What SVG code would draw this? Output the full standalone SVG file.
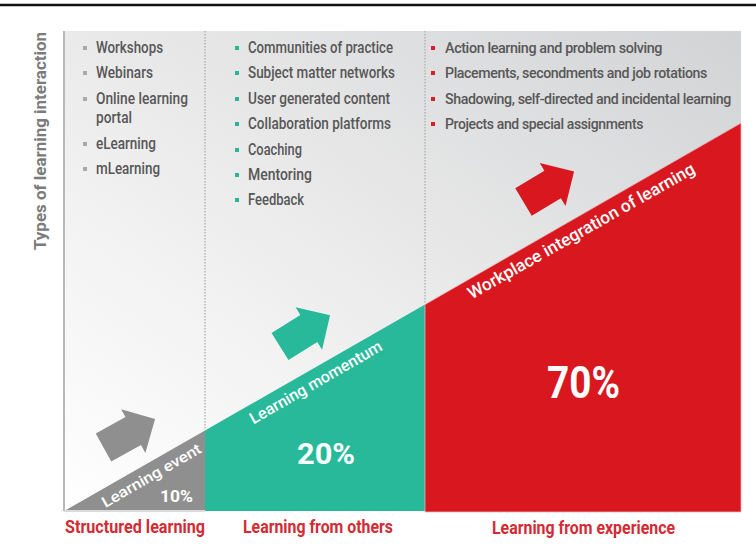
<svg xmlns="http://www.w3.org/2000/svg" width="756" height="551" viewBox="0 0 756 551">
  <defs>
    <linearGradient id="bg" x1="0" y1="1" x2="1" y2="0">
      <stop offset="0" stop-color="#ffffff"/>
      <stop offset="0.35" stop-color="#f1f1f1"/>
      <stop offset="1" stop-color="#d2d3d5"/>
    </linearGradient>
    <path id="arrow" d="M0,-16 L34,-16 L34,-25 L59,0 L34,25 L34,16 L0,16 Z"/>
    <rect id="sq" x="-2" y="-2" width="4" height="4"/>
    <style>
      .item { font-family: "Roboto", "Liberation Sans", sans-serif; font-size: 16px; font-weight: 500; fill: #575757; }
      .item3 { font-size: 14.5px; letter-spacing: -0.4px; }
      .b1 { fill: #a9a9a9; }
      .b2 { fill: #2ab597; }
      .b3 { fill: #d81f26; }
      .cat { font-family: "Roboto", "Liberation Sans", sans-serif; font-size: 19px; font-weight: 700; fill: #d42a34; text-anchor: middle; }
      .wt { font-family: "Roboto", "Liberation Sans", sans-serif; font-weight: 700; fill: #ffffff; }
      .div { stroke: #b5b5b5; stroke-width: 1.5; stroke-dasharray: 1.5 1.5; fill: none; }
    </style>
  </defs>

  <!-- top rule -->
  <line x1="0" y1="5" x2="756" y2="5" stroke="#111" stroke-width="2.5"/>

  <!-- chart background -->
  <rect x="64" y="31" width="677" height="480" fill="url(#bg)"/>

  <!-- axis label -->
  <text transform="translate(46,141) rotate(-90)" text-anchor="middle" textLength="218" lengthAdjust="spacingAndGlyphs" style="font-family:'Roboto','Liberation Sans',sans-serif;font-size:16px;font-weight:700;fill:#7b7b7b">Types of learning interaction</text>

  <g id="connectors">
    <line x1="64" y1="31" x2="64" y2="511" stroke="#b8b8b8" stroke-width="2"/>
    <line x1="64" y1="511" x2="205" y2="511" stroke="#cfcfcf" stroke-width="1.5"/>
    <line class="div" x1="205" y1="31" x2="205" y2="430"/>
    <line class="div" x1="425" y1="31" x2="425" y2="304"/>
  </g>

  <!-- Structured learning -->
  <g id="structured">
    <polygon points="66,510 205,430.5 205,510" fill="#8f8f8f"/>
    <use href="#arrow" transform="translate(103.5,447.5) rotate(-29)" fill="#8f8f8f"/>
    <text class="wt" transform="translate(154,480) rotate(-30)" text-anchor="middle" font-size="15" textLength="112" lengthAdjust="spacingAndGlyphs" style="font-weight:500">Learning event</text>
    <text class="wt" x="176.5" y="502" text-anchor="middle" font-size="16" textLength="33" lengthAdjust="spacingAndGlyphs">10%</text>
    <g class="item">
      <use href="#sq" class="b1" x="85" y="48"/><text x="96" y="53" textLength="67" lengthAdjust="spacingAndGlyphs">Workshops</text>
      <use href="#sq" class="b1" x="85" y="73"/><text x="96" y="78" textLength="57" lengthAdjust="spacingAndGlyphs">Webinars</text>
      <use href="#sq" class="b1" x="85" y="99"/><text x="96" y="104" textLength="92" lengthAdjust="spacingAndGlyphs">Online learning</text>
      <text x="96" y="123" textLength="36" lengthAdjust="spacingAndGlyphs">portal</text>
      <use href="#sq" class="b1" x="85" y="144"/><text x="96" y="149" textLength="60" lengthAdjust="spacingAndGlyphs">eLearning</text>
      <use href="#sq" class="b1" x="85" y="169"/><text x="96" y="174" textLength="64" lengthAdjust="spacingAndGlyphs">mLearning</text>
    </g>
    <text class="cat" x="135" y="533" textLength="140" lengthAdjust="spacingAndGlyphs">Structured learning</text>
  </g>

  <!-- Learning from others -->
  <g id="others">
    <polygon points="205,430.5 425,304.5 425,511 205,511" fill="#27b99a"/>
    <use href="#arrow" transform="translate(280,346.5) rotate(-32)" fill="#27b99a"/>
    <text class="wt" transform="translate(318.5,387) rotate(-30)" text-anchor="middle" font-size="16" textLength="150" lengthAdjust="spacingAndGlyphs" style="font-weight:500">Learning momentum</text>
    <text class="wt" x="326" y="464" text-anchor="middle" font-size="30" textLength="58" lengthAdjust="spacingAndGlyphs">20%</text>
    <g class="item">
      <use href="#sq" class="b2" x="237" y="48"/><text x="248" y="53" textLength="145" lengthAdjust="spacingAndGlyphs">Communities of practice</text>
      <use href="#sq" class="b2" x="237" y="73"/><text x="248" y="78" textLength="147" lengthAdjust="spacingAndGlyphs">Subject matter networks</text>
      <use href="#sq" class="b2" x="237" y="99"/><text x="248" y="104" textLength="142" lengthAdjust="spacingAndGlyphs">User generated content</text>
      <use href="#sq" class="b2" x="237" y="124"/><text x="248" y="129" textLength="143" lengthAdjust="spacingAndGlyphs">Collaboration platforms</text>
      <use href="#sq" class="b2" x="237" y="150"/><text x="248" y="155" textLength="54" lengthAdjust="spacingAndGlyphs">Coaching</text>
      <use href="#sq" class="b2" x="237" y="175"/><text x="248" y="180" textLength="64" lengthAdjust="spacingAndGlyphs">Mentoring</text>
      <use href="#sq" class="b2" x="237" y="200"/><text x="248" y="205" textLength="56" lengthAdjust="spacingAndGlyphs">Feedback</text>
    </g>
    <text class="cat" x="318" y="533" textLength="150" lengthAdjust="spacingAndGlyphs">Learning from others</text>
  </g>

  <!-- Learning from experience -->
  <g id="experience">
    <polygon points="425,304.5 741,123 741,512 425,512" fill="#d9171f" stroke="#e7b3b5" stroke-width="0.8"/>
    <use href="#arrow" transform="translate(523.5,202) rotate(-31)" fill="#d9171f"/>
    <text class="wt" transform="translate(584,236) rotate(-29.5)" text-anchor="middle" font-size="17" textLength="258" lengthAdjust="spacingAndGlyphs" style="font-weight:500">Workplace integration of learning</text>
    <text class="wt" x="583.5" y="398" text-anchor="middle" font-size="44" textLength="73" lengthAdjust="spacingAndGlyphs">70%</text>
    <g class="item item3">
      <use href="#sq" class="b3" x="433" y="48"/><text x="445" y="53" textLength="217" lengthAdjust="spacingAndGlyphs">Action learning and problem solving</text>
      <use href="#sq" class="b3" x="433" y="73"/><text x="445" y="78" textLength="262" lengthAdjust="spacingAndGlyphs">Placements, secondments and job rotations</text>
      <use href="#sq" class="b3" x="433" y="99"/><text x="445" y="104" textLength="286" lengthAdjust="spacingAndGlyphs">Shadowing, self-directed and incidental learning</text>
      <use href="#sq" class="b3" x="433" y="124"/><text x="445" y="129" textLength="198" lengthAdjust="spacingAndGlyphs">Projects and special assignments</text>
    </g>
    <text class="cat" x="583.5" y="534" textLength="183" lengthAdjust="spacingAndGlyphs">Learning from experience</text>
  </g>
</svg>
